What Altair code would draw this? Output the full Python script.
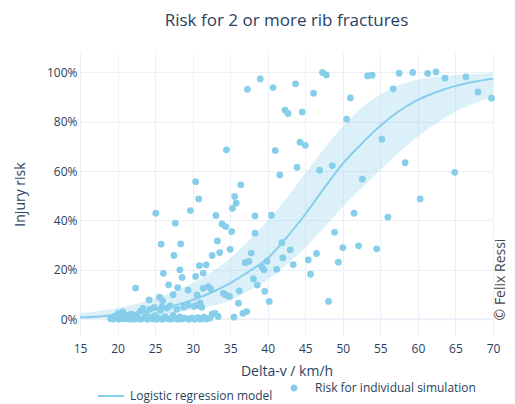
import altair as alt
import pandas as pd

# ---- individual simulations (Delta-v km/h, risk %) ----
pt_x = [37.3, 39.0, 40.7, 43.7, 46.1, 47.3, 47.8, 53.3, 53.9, 57.5, 59.3, 61.3, 62.4, 63.6, 66.4, 68.0, 69.8,
        56.7, 51.0, 50.5, 55.2, 42.3, 42.7, 44.6, 44.3, 45.0, 41.0, 43.9, 41.6, 46.9, 48.6, 58.3, 64.9, 52.6,
        60.3, 51.5, 56.0, 40.5, 48.9, 50.0, 52.1, 54.5, 41.9, 43.0, 42.0, 39.9, 43.4, 45.4, 46.5, 49.4, 39.2,
        39.5, 41.2, 45.7, 39.6, 40.2, 48.1,
        34.5, 30.4, 30.8, 25.1, 29.7, 36.4, 35.6, 35.8, 35.3, 33.1, 33.9, 34.4, 27.7, 35.2, 35.0, 33.6, 33.3,
        32.6, 25.8, 28.4, 27.5, 26.1, 28.3, 28.6, 30.4, 30.9, 31.8, 31.4, 38.3, 38.3, 37.0, 37.5, 37.8, 38.1,
        38.6, 22.4, 24.2, 25.6, 26.0, 26.8, 27.4, 28.0, 29.4, 30.6, 31.0, 31.4, 32.1, 32.4, 34.1, 34.4, 34.9,
        36.2, 36.1, 33.0, 33.4, 35.5, 36.7, 37.2,
        19.1, 19.4, 19.6, 19.9, 20.1, 20.2, 20.5, 20.7, 20.9, 21.1, 21.3, 21.6, 21.8, 22.0, 22.2, 22.5, 22.7,
        23.0, 23.1, 23.4, 23.6, 23.8, 24.0, 24.3, 24.4, 24.7, 24.9, 25.0, 25.2, 25.5, 25.7, 25.9, 26.0, 26.3,
        26.6, 26.7, 27.0, 27.1, 27.4, 27.7, 27.9, 28.0, 28.3, 28.6, 28.8, 29.0, 29.4, 29.5, 29.9, 30.2, 30.3,
        30.7, 31.1, 31.5, 31.8, 32.3, 32.6, 30.5, 31.2]
pt_y = [93.1, 97.3, 93.8, 95.3, 91.5, 99.9, 98.9, 98.5, 98.8, 99.6, 99.9, 99.5, 100.1, 97.6, 98.1, 92.0, 89.5,
        93.3, 89.6, 81.0, 72.9, 84.7, 83.3, 83.9, 71.7, 70.4, 68.3, 61.5, 58.4, 60.3, 62.2, 63.4, 59.5, 56.7,
        48.7, 42.9, 41.3, 42.1, 35.2, 29.0, 29.7, 28.5, 31.0, 28.1, 24.8, 23.5, 22.1, 24.0, 26.6, 23.1, 21.3,
        20.0, 20.2, 18.2, 11.3, 7.2, 7.2,
        68.6, 55.7, 48.7, 42.9, 44.0, 54.4, 49.7, 47.0, 44.9, 42.0, 38.6, 37.5, 38.9, 35.5, 28.3, 27.0, 31.7,
        25.8, 30.4, 30.5, 25.8, 18.6, 20.0, 16.9, 17.3, 21.7, 22.0, 18.7, 41.8, 34.8, 22.9, 23.4, 26.8, 16.3,
        13.8, 12.6, 7.8, 8.9, 7.5, 13.9, 9.9, 12.8, 11.8, 9.8, 6.6, 12.5, 13.2, 12.3, 10.5, 9.8, 9.2,
        11.5, 6.5, 2.4, 1.1, 0.8, 2.4, 3.1,
        0.2, 0.0, 1.2, 0.4, 2.4, 0.0, 0.8, 3.0, 0.1, 1.6, 0.3, 0.0, 2.0, 0.6, 0.0, 1.1, 0.2,
        3.2, 0.0, 4.4, 0.5, 1.8, 0.0, 4.0, 0.7, 0.1, 4.8, 1.4, 0.0, 0.4, 3.6, 4.9, 0.0, 1.0,
        4.5, 0.2, 5.4, 0.0, 1.5, 0.3, 4.0, 0.0, 0.9, 0.1, 4.9, 0.4, 5.7, 0.0, 0.5, 5.2, 0.0,
        0.6, 0.0, 0.8, 0.1, 0.4, 2.0, 5.5, 4.8]

# ---- logistic regression model and its band (%) ----
curve_x = [15, 17.5, 20, 22.5, 25, 27.5, 30, 32.5, 35, 37.5, 40, 42.5, 45, 47.5, 50, 52.5, 55, 57.5, 60,
           62.5, 65, 67.5, 70]
curve_y = [0.7, 1.1, 1.8, 2.7, 3.8, 5.5, 7.8, 10.8, 14.6, 19.3, 24.7, 33.0, 42.5, 53.0, 63.0, 71.0, 78.3,
           84.3, 88.8, 92.0, 94.5, 96.2, 97.4]
band_hi = [2.4, 3.3, 4.5, 6.2, 8.5, 11.2, 14.6, 19.2, 24.7, 32.0, 40.0, 49.0, 59.0, 69.0, 78.0, 85.5, 91.0,
           94.8, 97.0, 98.2, 98.9, 99.3, 99.6]
band_lo = [0.2, 0.4, 0.7, 1.0, 1.5, 2.4, 3.8, 5.3, 7.6, 11.5, 16.0, 22.0, 29.0, 37.0, 45.5, 53.0, 60.5,
           67.5, 74.0, 79.5, 84.0, 87.5, 90.0]

x_ticks = [15, 20, 25, 30, 35, 40, 45, 50, 55, 60, 65, 70]
y_ticks = [0, 20, 40, 60, 80, 100]

FONT = "Open Sans"
TXT = "#2a3f5f"
BLUE = "#87CEEB"
GRID = "#EBF0F8"

pts = pd.DataFrame({"dv": pt_x, "risk": pt_y, "series": "Risk for individual simulation"})
crv = pd.DataFrame({"dv": curve_x, "risk": curve_y, "lo": band_lo, "hi": band_hi,
                    "series": "Logistic regression model"})
zero = pd.DataFrame({"y": [0]})

xs = alt.Scale(domain=[15, 70], nice=False, zero=False)
ys = alt.Scale(domain=[-6.4, 107.8], nice=False, zero=False)

xaxis = alt.Axis(values=x_ticks, title="Delta-v / km/h", grid=True, gridColor=GRID, gridWidth=1,
                 ticks=False, domain=False, labelFont=FONT, labelFontSize=12, labelColor=TXT,
                 labelPadding=8, labelOverlap=False, labelFlush=False, titleFont=FONT,
                 titleFontSize=14, titleColor=TXT, titleFontWeight="normal", titlePadding=10)
yaxis = alt.Axis(values=y_ticks, labelExpr="datum.value + '%'", title="Injury risk", grid=True,
                 gridColor=GRID, gridWidth=1, ticks=False, domain=False, labelFont=FONT,
                 labelFontSize=12, labelColor=TXT, labelPadding=3, labelOverlap=False,
                 titleFont=FONT, titleFontSize=14, titleColor=TXT, titleFontWeight="normal",
                 titlePadding=19)
copy_axis = alt.Axis(orient="right", title="© Felix Ressi", labels=False, ticks=False, domain=False,
                     grid=False, titleAngle=270, titleFont=FONT, titleFontSize=14, titleColor="#444444",
                     titleFontWeight="normal", titleX=7, titleY=226, titleAlign="center",
                     titleBaseline="middle")

zero_rule = alt.Chart(zero).mark_rule(color=GRID, strokeWidth=2).encode(
    y=alt.Y("y:Q", scale=ys, axis=None))

band = alt.Chart(crv).mark_area(color=BLUE, opacity=0.3, interpolate="monotone").encode(
    x=alt.X("dv:Q", scale=xs, axis=xaxis),
    y=alt.Y("lo:Q", scale=ys, axis=yaxis),
    y2="hi:Q")

line = alt.Chart(crv).mark_line(strokeWidth=2, interpolate="monotone").encode(
    x=alt.X("dv:Q", scale=xs, axis=xaxis),
    y=alt.Y("risk:Q", scale=ys, axis=None),
    color=alt.Color("series:N", scale=alt.Scale(range=[BLUE]),
                    legend=alt.Legend(orient="none", legendX=17, legendY=329, title=None,
                                      direction="horizontal", symbolType="stroke", symbolSize=676,
                                      symbolStrokeWidth=2, labelFont=FONT, labelFontSize=12,
                                      labelColor=TXT, labelOffset=5, labelLimit=400)))

points = alt.Chart(pts).mark_circle(size=46, opacity=1).encode(
    x=alt.X("dv:Q", scale=xs, axis=xaxis),
    y=alt.Y("risk:Q", scale=ys, axis=copy_axis),
    fill=alt.Fill("series:N", scale=alt.Scale(range=[BLUE]),
                  legend=alt.Legend(orient="none", legendX=208, legendY=329, title=None,
                                    direction="horizontal", symbolType="circle", symbolSize=46,
                                    symbolOpacity=1, labelFont=FONT, labelFontSize=12,
                                    labelColor=TXT, labelOffset=15, labelLimit=400)))

chart = alt.layer(zero_rule, band, line, points).resolve_axis(y="independent").properties(
    width=413, height=282,
    autosize=alt.AutoSizeParams(type="none"),
    padding={"left": 72, "top": 45, "right": 14, "bottom": 70},
    background="white",
    title=alt.TitleParams("Risk for 2 or more rib fractures", font=FONT, fontSize=17, color=TXT,
                          fontWeight="normal", anchor="middle", baseline="middle", offset=15),
).configure_view(stroke=None)

chart.save("out.html", embed_options={"renderer": "svg", "actions": False})
